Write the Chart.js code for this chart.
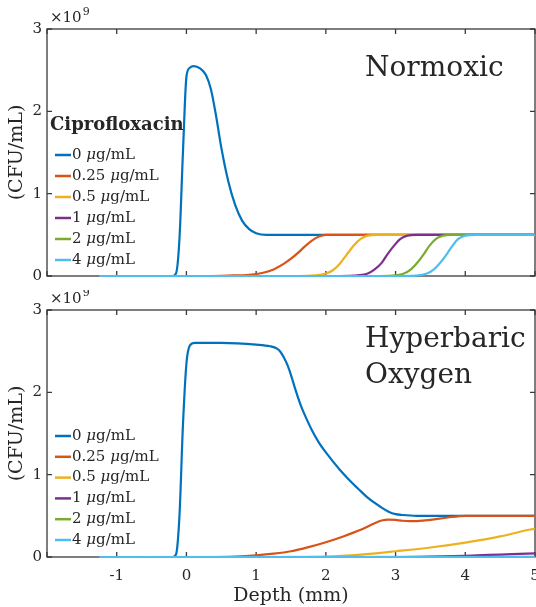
<!DOCTYPE html>
<html>
<head>
    <title>Ciprofloxacin CFU vs depth</title>
    <script src="https://cdn.jsdelivr.net/npm/chart.js"></script>
    <style>
        body { margin: 0; background: #fff; }
        #wrap { position: relative; width: 536px; height: 607px; }
        canvas { position: absolute; left: 0; }
    </style>
</head>
<body>
<div id="wrap">
    <canvas id="normoxicChart" width="536" height="290" style="top:0"></canvas>
    <canvas id="hyperbaricChart" width="536" height="317" style="top:290px"></canvas>
</div>

<script>
    // concentrations (legend labels) and MATLAB default line colours
    var doseLabels = ['0 μg/mL', '0.25 μg/mL', '0.5 μg/mL', '1 μg/mL', '2 μg/mL', '4 μg/mL'];
    var doseColors = ['#0072BD', '#D95319', '#EDB120', '#7E2F8E', '#77AC30', '#4DBEEE'];

    var xTickLabels = ['-1', '0', '1', '2', '3', '4', '5'];
    var yTickLabels = ['0', '1', '2', '3'];

    // Normoxic, [depth mm, CFU/mL x1e9]
    var norm0 = [[-1.25,0],[-0.2,0],[-0.15,0.03],[-0.1,0.45],[-0.05,1.5],[0,2.42],[0.05,2.53],[0.1,2.55],[0.2,2.52],[0.28,2.44],[0.35,2.27],[0.42,1.97],[0.5,1.56],[0.6,1.15],[0.7,0.86],[0.8,0.67],[0.9,0.57],[1.0,0.52],[1.15,0.5],[5,0.5]];
    var norm1 = [[-1.25,0],[0.3,0],[0.6,0.005],[0.9,0.015],[1.1,0.04],[1.25,0.08],[1.4,0.15],[1.5,0.21],[1.6,0.28],[1.7,0.36],[1.8,0.43],[1.9,0.48],[2.0,0.5],[5,0.5]];
    var norm2 = [[-1.25,0],[1.5,0],[1.8,0.005],[2.0,0.03],[2.1,0.07],[2.2,0.15],[2.3,0.26],[2.4,0.37],[2.5,0.45],[2.6,0.49],[2.75,0.5],[5,0.5]];
    var norm3 = [[-1.25,0],[2.1,0],[2.4,0.005],[2.6,0.03],[2.7,0.08],[2.8,0.16],[2.88,0.26],[2.97,0.36],[3.07,0.45],[3.17,0.49],[3.3,0.5],[5,0.5]];
    var norm4 = [[-1.25,0],[2.7,0],[2.95,0.005],[3.12,0.03],[3.22,0.08],[3.32,0.17],[3.4,0.26],[3.48,0.36],[3.58,0.45],[3.68,0.49],[3.8,0.5],[5,0.5]];
    var norm5 = [[-1.25,0],[3.0,0],[3.3,0.005],[3.45,0.03],[3.55,0.08],[3.65,0.17],[3.73,0.26],[3.81,0.36],[3.9,0.45],[4.0,0.49],[4.15,0.5],[5,0.5]];

    // Hyperbaric oxygen
    var hyper0 = [[-1.25,0],[-0.2,0],[-0.15,0.03],[-0.1,0.5],[-0.05,1.6],[0,2.35],[0.05,2.57],[0.12,2.6],[0.5,2.6],[1.0,2.58],[1.2,2.56],[1.3,2.53],[1.35,2.49],[1.4,2.42],[1.45,2.33],[1.5,2.21],[1.55,2.07],[1.6,1.94],[1.65,1.82],[1.7,1.72],[1.8,1.54],[1.9,1.39],[2.0,1.27],[2.2,1.06],[2.4,0.88],[2.5,0.8],[2.6,0.72],[2.8,0.6],[2.9,0.55],[3.0,0.52],[3.1,0.51],[3.3,0.5],[5,0.5]];
    var hyper1 = [[-1.25,0],[0.3,0],[0.7,0.005],[1.0,0.02],[1.25,0.04],[1.5,0.07],[1.75,0.12],[2.0,0.18],[2.25,0.25],[2.5,0.33],[2.7,0.41],[2.8,0.443],[2.9,0.455],[3.0,0.45],[3.1,0.44],[3.2,0.435],[3.3,0.436],[3.5,0.45],[3.75,0.48],[4.0,0.5],[5,0.5]];
    var hyper2 = [[-1.25,0],[1.5,0],[2.0,0.005],[2.5,0.03],[3.0,0.07],[3.5,0.115],[4.0,0.175],[4.5,0.25],[4.8,0.31],[5,0.345]];
    var hyper3 = [[-1.25,0],[3.0,0],[3.5,0.005],[4.0,0.015],[4.5,0.03],[5,0.045]];
    var hyper4 = [[-1.25,0],[5,0.002]];
    var hyper5 = [[-1.25,0],[5,0]];

    var serif = "'DejaVu Serif', serif";
    var inkColor = '#262626';

    function makeDatasets(seriesList) {
        return seriesList.map(function(s, i) {
            return {
                label: doseLabels[i],
                data: s.map(function(p) { return {x: p[0], y: p[1]}; }),
                borderColor: doseColors[i],
                borderWidth: 2.2,
                pointRadius: 0,
                clip: 3,
                cubicInterpolationMode: 'monotone',
                order: seriesList.length - i   // later series on top, like matlab
            };
        });
    }

    // box round the plot with inward ticks on all four sides (under the lines)
    var frameTicks = {
        id: 'frameTicks',
        beforeDatasetsDraw: function(chart) {
            var ctx = chart.ctx, a = chart.chartArea;
            var xs = chart.scales.x, ys = chart.scales.y;
            ctx.save();
            ctx.strokeStyle = '#3a3a3a';
            ctx.lineWidth = 1.3;
            ctx.beginPath();
            xs.ticks.forEach(function(t) {
                var px = xs.getPixelForValue(t.value);
                ctx.moveTo(px, a.bottom); ctx.lineTo(px, a.bottom - 5);
                ctx.moveTo(px, a.top); ctx.lineTo(px, a.top + 5);
            });
            ys.ticks.forEach(function(t) {
                var py = ys.getPixelForValue(t.value);
                ctx.moveTo(a.left, py); ctx.lineTo(a.left + 5, py);
                ctx.moveTo(a.right, py); ctx.lineTo(a.right - 5, py);
            });
            ctx.stroke();
            ctx.strokeRect(a.left, a.top, a.right - a.left, a.bottom - a.top);
            ctx.restore();
        }
    };

    // legend, panel name and the x10^9 exponent
    var annotations = {
        id: 'annotations',
        afterDraw: function(chart, args, opts) {
            var ctx = chart.ctx, a = chart.chartArea;
            ctx.save();
            ctx.fillStyle = inkColor;
            ctx.textBaseline = 'alphabetic';

            // exponent
            ctx.font = '15px ' + serif;
            ctx.fillText('×10', a.left + 3, a.top - 7);
            var w = ctx.measureText('×10').width;
            ctx.font = '11px ' + serif;
            ctx.fillText('9', a.left + 3 + w + 1, a.top - 14);

            // panel name
            ctx.font = '28px ' + serif;
            opts.name.forEach(function(line, i) {
                ctx.fillText(line, 365, opts.nameY + i * 36);
            });

            // legend
            ctx.textBaseline = 'middle';
            if (opts.title) {
                ctx.font = 'bold 18px ' + serif;
                ctx.fillText(opts.title, 50, opts.titleY);
            }
            chart.data.datasets.forEach(function(ds, i) {
                var y = opts.legendY + i * opts.legendStep;
                ctx.strokeStyle = ds.borderColor;
                ctx.lineWidth = 2.5;
                ctx.beginPath();
                ctx.moveTo(55, y); ctx.lineTo(71, y);
                ctx.stroke();
                var parts = ds.label.split('μ');
                var x = 72;
                ctx.fillStyle = inkColor;
                ctx.font = '15px ' + serif;
                ctx.fillText(parts[0], x, y);
                x += ctx.measureText(parts[0]).width;
                ctx.font = 'italic 15px ' + serif;
                ctx.fillText('μ', x, y);
                x += ctx.measureText('μ').width;
                ctx.font = '15px ' + serif;
                ctx.fillText(parts[1], x, y);
            });
            ctx.restore();
        }
    };

    function makeChart(canvasId, seriesList, opts) {
        var ctx = document.getElementById(canvasId).getContext('2d');
        return new Chart(ctx, {
            type: 'line',
            data: { datasets: makeDatasets(seriesList) },
            options: {
                responsive: false,
                animation: false,
                layout: { padding: { top: opts.padTop, right: 1, left: 0, bottom: 0 } },
                plugins: {
                    legend: { display: false },
                    tooltip: { enabled: false },
                    annotations: opts.annot
                },
                scales: {
                    x: {
                        type: 'linear',
                        min: -2,
                        max: 5,
                        grid: { display: false, drawTicks: false },
                        border: { display: false },
                        ticks: {
                            display: opts.showX,
                            stepSize: 1,
                            padding: 10,
                            color: inkColor,
                            font: { family: serif, size: 15 },
                            maxRotation: 0,
                            callback: function(v) {
                                var s = String(v);
                                return xTickLabels.indexOf(s) >= 0 ? s : '';
                            }
                        },
                        title: {
                            display: opts.showX,
                            text: 'Depth (mm)',
                            color: inkColor,
                            padding: 0,
                            font: { family: serif, size: 19 }
                        },
                        afterFit: function(s) {
                            s.height = opts.xHeight;
                            s.paddingLeft = 0;
                            s.paddingRight = 0;
                        }
                    },
                    y: {
                        min: 0,
                        max: 3,
                        grid: { display: false, drawTicks: false },
                        border: { display: false },
                        ticks: {
                            stepSize: 1,
                            padding: 5,
                            color: inkColor,
                            font: { family: serif, size: 15 },
                            callback: function(v) {
                                var s = String(v);
                                return yTickLabels.indexOf(s) >= 0 ? s : '';
                            }
                        },
                        title: {
                            display: true,
                            text: '(CFU/mL)',
                            color: inkColor,
                            padding: { top: 6, bottom: 0 },
                            font: { family: serif, size: 19 }
                        },
                        afterFit: function(s) { s.width = 47; }
                    }
                }
            },
            plugins: [frameTicks, annotations]
        });
    }

    makeChart('normoxicChart', [norm0, norm1, norm2, norm3, norm4, norm5], {
        padTop: 29,
        xHeight: 14,
        showX: false,
        annot: { name: ['Normoxic'], nameY: 76, title: 'Ciprofloxacin', titleY: 125, legendY: 155, legendStep: 21 }
    });

    makeChart('hyperbaricChart', [hyper0, hyper1, hyper2, hyper3, hyper4, hyper5], {
        padTop: 20,
        xHeight: 50,
        showX: true,
        annot: { name: ['Hyperbaric', 'Oxygen'], nameY: 57, title: null, legendY: 146, legendStep: 20.8 }
    });
</script>
</body>
</html>
